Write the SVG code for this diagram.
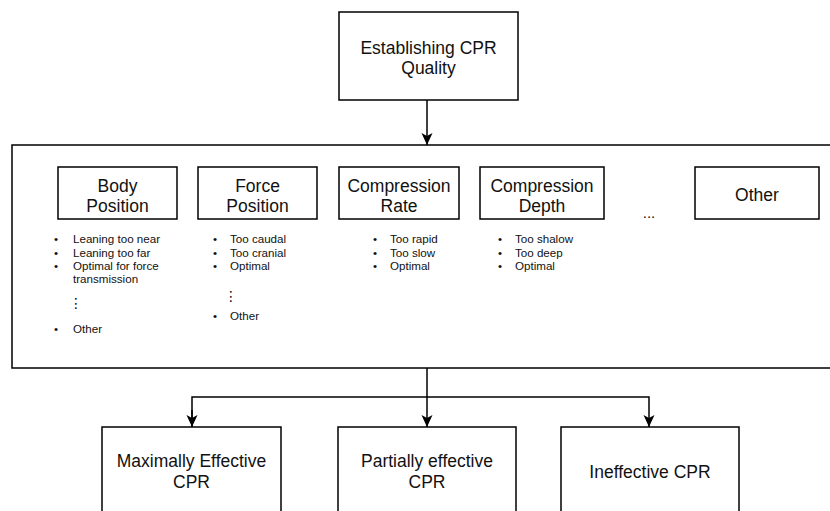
<svg xmlns="http://www.w3.org/2000/svg" width="830" height="511" viewBox="0 0 830 511">
<defs>
<marker id="ah" viewBox="0 0 12 12" refX="12" refY="6" markerWidth="12" markerHeight="12" markerUnits="userSpaceOnUse" orient="auto">
<path d="M0,0.5 L12,6 L0,11.5 L3,6 z" fill="#000"/>
</marker>
<style>
.box{fill:#fff;stroke:#000;stroke-width:1.5}
.t{font-family:"Liberation Sans",Arial,sans-serif;fill:#111;text-anchor:middle}
.h{font-size:17.5px}
.b{font-size:17.5px}
.l{font-family:"Liberation Sans",Arial,sans-serif;fill:#111;font-size:11.6px}
.v{font-family:"DejaVu Sans",sans-serif;fill:#111;font-size:14px}
.c{fill:none;stroke:#000;stroke-width:1.5}
</style>
</defs>
<rect width="830" height="511" fill="#fff"/>
<g id="top">
<rect class="box" x="339" y="12" width="179" height="88"/>
<text class="t b" x="428.5" y="54">Establishing CPR</text>
<text class="t b" x="428.5" y="74">Quality</text>
</g>
<g id="container">
<rect class="box" x="12" y="145" width="830" height="223"/>
</g>
<g id="body">
<rect class="box" x="58" y="167" width="119" height="52"/>
<text class="t h" x="117.5" y="192">Body</text>
<text class="t h" x="117.5" y="212">Position</text>
<g class="l">
<text x="54" y="243">•</text><text x="73" y="243">Leaning too near</text>
<text x="54" y="257">•</text><text x="73" y="257">Leaning too far</text>
<text x="54" y="270">•</text><text x="73" y="270">Optimal for force</text>
<text x="73" y="283">transmission</text>
<text x="54" y="333">•</text><text x="73" y="333">Other</text>
</g>
<text class="v" x="69" y="308">⋮</text>
</g>
<g id="force">
<rect class="box" x="198" y="167" width="119" height="52"/>
<text class="t h" x="257.5" y="192">Force</text>
<text class="t h" x="257.5" y="212">Position</text>
<g class="l">
<text x="213" y="243">•</text><text x="230" y="243">Too caudal</text>
<text x="213" y="257">•</text><text x="230" y="257">Too cranial</text>
<text x="213" y="270">•</text><text x="230" y="270">Optimal</text>
<text x="213" y="320">•</text><text x="230" y="320">Other</text>
</g>
<text class="v" x="224" y="301">⋮</text>
</g>
<g id="rate">
<rect class="box" x="339" y="167" width="120" height="52"/>
<text class="t h" x="399" y="192">Compression</text>
<text class="t h" x="399" y="212">Rate</text>
<g class="l">
<text x="373" y="243">•</text><text x="390" y="243">Too rapid</text>
<text x="373" y="257">•</text><text x="390" y="257">Too slow</text>
<text x="373" y="270">•</text><text x="390" y="270">Optimal</text>
</g>
</g>
<g id="depth">
<rect class="box" x="480" y="167" width="124" height="52"/>
<text class="t h" x="542" y="192">Compression</text>
<text class="t h" x="542" y="212">Depth</text>
<g class="l">
<text x="498" y="243">•</text><text x="515" y="243">Too shalow</text>
<text x="498" y="257">•</text><text x="515" y="257">Too deep</text>
<text x="498" y="270">•</text><text x="515" y="270">Optimal</text>
</g>
</g>
<g id="ellipsis">
<text class="t" x="649" y="218" font-size="15">...</text>
</g>
<g id="other">
<rect class="box" x="695" y="167" width="124" height="52"/>
<text class="t h" x="757" y="201">Other</text>
</g>
<g id="max">
<rect class="box" x="102" y="427" width="179" height="100"/>
<text class="t b" x="191.5" y="467">Maximally Effective</text>
<text class="t b" x="191.5" y="488">CPR</text>
</g>
<g id="partial">
<rect class="box" x="338" y="427" width="178" height="100"/>
<text class="t b" x="427" y="467">Partially effective</text>
<text class="t b" x="427" y="488">CPR</text>
</g>
<g id="ineffective">
<rect class="box" x="561" y="427" width="178" height="100"/>
<text class="t b" x="650" y="478">Ineffective CPR</text>
</g>
<g id="connectors">
<path class="c" d="M427,100 V145" marker-end="url(#ah)"/>
<path class="c" d="M427,368 V427" marker-end="url(#ah)"/>
<path class="c" d="M192,427 V397 H649 V427" marker-end="url(#ah)"/>
<path class="c" d="M192,410 V427" marker-end="url(#ah)"/>
</g>
</svg>
